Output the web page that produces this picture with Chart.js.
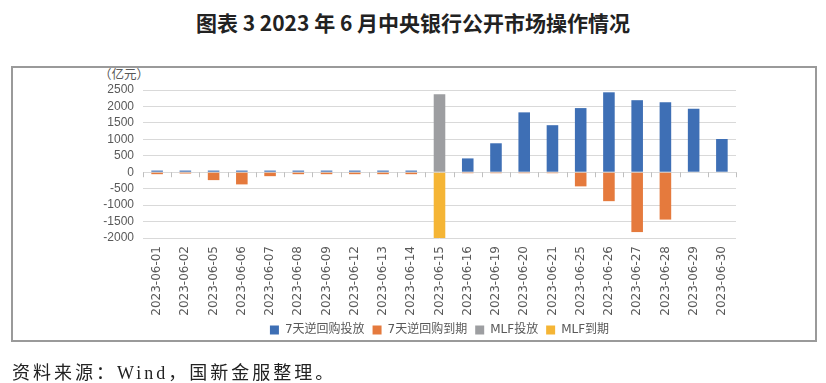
<!DOCTYPE html>
<html>
<head>
<meta charset="utf-8">
<script src="https://cdn.jsdelivr.net/npm/chart.js@4"></script>
<style>
  html,body{margin:0;padding:0;background:#fff;width:826px;height:383px;overflow:hidden;}
  #title{position:absolute;left:0;top:8px;width:826px;text-align:center;font-family:"Noto Sans CJK SC";font-weight:bold;font-size:21px;color:#222;line-height:28px;}
  #frame{position:absolute;left:11px;top:66px;width:806px;height:276px;box-sizing:border-box;border:2px solid #9a9a9a;}
  #unit{position:absolute;left:99px;top:66px;font-family:"Noto Sans CJK SC";font-size:12.5px;color:#595959;line-height:16px;}
  #source{position:absolute;left:12px;top:361px;font-family:"Liberation Serif","Noto Sans CJK SC";font-size:18px;letter-spacing:3px;color:#222;line-height:24px;}
  canvas{position:absolute;left:0;top:0;}
</style>
</head>
<body>
<div id="title">图表 3 2023 年 6 月中央银行公开市场操作情况</div>
<div id="frame"></div>
<div id="unit">（亿元）</div>
<canvas id="c" width="826" height="383"></canvas>
<div id="source">资料来源：Wind，国新金服整理。</div>
<script>
const dates = ['2023-06-01','2023-06-02','2023-06-05','2023-06-06','2023-06-07','2023-06-08','2023-06-09','2023-06-12','2023-06-13','2023-06-14','2023-06-15','2023-06-16','2023-06-19','2023-06-20','2023-06-21','2023-06-25','2023-06-26','2023-06-27','2023-06-28','2023-06-29','2023-06-30'];
const repoInject = [50,50,50,50,50,50,50,50,50,50,null,420,880,1820,1430,1950,2430,2190,2130,1930,1010];
const repoMature = [-60,-40,-240,-370,-120,-60,-60,-60,-60,-60,null,-30,-30,-30,-30,-430,-880,-1820,-1440,null,null];
const mlfInject = [null,null,null,null,null,null,null,null,null,null,2370,null,null,null,null,null,null,null,null,null,null];
const mlfMature = [null,null,null,null,null,null,null,null,null,null,-2000,null,null,null,null,null,null,null,null,null,null];
const seriesNames = ['7天逆回购投放','7天逆回购到期','MLF投放','MLF到期'];
const yMin = -2000, yMax = 2500, yStep = 500;

const colors = ['#3E6FB5','#E57A3D','#9D9EA1','#F5B535'];
const seriesData = [repoInject, repoMature, mlfInject, mlfMature];

const zeroTicks = {
  id:'zeroTicks',
  afterDatasetsDraw(chart){
    const x = chart.scales.x, y = chart.scales.y;
    const y0 = y.getPixelForValue(0);
    const ctx = chart.ctx;
    const w = x.getPixelForValue(1) - x.getPixelForValue(0);
    ctx.save();
    ctx.strokeStyle = '#bfbfbf';
    ctx.lineWidth = 1;
    ctx.beginPath();
    for(let i=0;i<=dates.length;i++){
      const px = Math.round(x.getPixelForValue(i) - w/2) + 0.5;
      ctx.moveTo(px, y0);
      ctx.lineTo(px, y0+5);
    }
    ctx.stroke();
    ctx.restore();
  }
};

Chart.defaults.font.family = '"Liberation Sans","Noto Sans CJK SC"';
Chart.defaults.color = '#595959';

new Chart(document.getElementById('c'), {
  type:'bar',
  data:{
    labels: dates,
    datasets: seriesNames.map((n,i)=>({
      label:n,
      data:seriesData[i],
      backgroundColor:colors[i],
      borderWidth:0,
      stack:'s',
      categoryPercentage:1,
      barPercentage:0.41
    }))
  },
  options:{
    responsive:false,
    animation:false,
    devicePixelRatio:1,
    layout:{padding:{top:90,right:90,left:0,bottom:37}},
    plugins:{
      legend:{
        position:'bottom',
        fullSize:false,
        labels:{boxWidth:9,boxHeight:9,padding:8,font:{size:12,family:'"DejaVu Sans","Noto Sans CJK SC"'},color:'#595959'}
      },
      tooltip:{enabled:false}
    },
    scales:{
      x:{
        stacked:true,
        grid:{display:false,drawTicks:false},
        border:{display:false},
        ticks:{minRotation:90,maxRotation:90,padding:8,autoSkip:false,font:{size:12,family:'"DejaVu Sans"'},color:'#595959'},
        afterFit(s){s.height=78;}
      },
      y:{
        stacked:true,
        min:yMin,max:yMax,
        grid:{color:'#d9d9d9',lineWidth:1,drawTicks:false},
        border:{display:false},
        ticks:{stepSize:yStep,autoSkip:false,padding:9,font:{size:12},color:'#595959',callback:v=>String(v)},
        afterFit(s){s.width=143;}
      }
    }
  },
  plugins:[zeroTicks]
});
</script>
</body>
</html>
